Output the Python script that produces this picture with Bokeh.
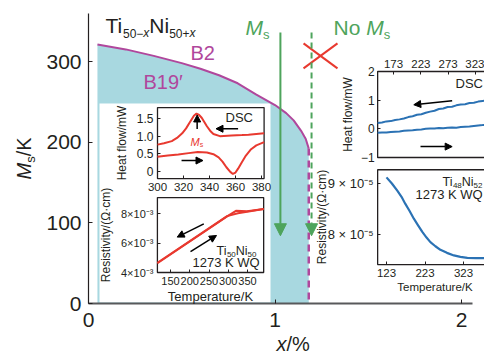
import math
from bokeh.plotting import figure
from bokeh.models import Range1d, LinearAxis, FixedTicker, Label, Arrow, NormalHead
from bokeh.embed import file_html
from bokeh.resources import INLINE

W, H = 484, 356
FONT = "Liberation Sans"
TXT = "#231f20"
CYAN = "#a8d8e0"
MAG = "#b0479c"
GREEN = "#4ea45c"
RED = "#e8392f"
BLUE = "#2b72b4"

# ---------------- data ----------------
# main phase diagram: Ms boundary of Ti50-xNi50+x
x_pct = [0.048, 0.20, 0.35, 0.50, 0.60, 0.70, 0.80, 0.90, 1.00, 1.06, 1.10, 1.14, 1.165, 1.181]
ms_K = [321, 315, 307, 298, 291, 283, 273, 259, 246, 236, 227, 214, 204, 192]
x_ticks = [0, 1, 2]
y_ticks = [0, 100, 200, 300]
x_ms_line = 1.029      # composition with Ms
x_no_ms_line = 1.196   # composition without Ms
arrow_top_K, arrow_tip_K = 336, 84
cross_x = [1.153, 1.335]
cross_y = [291.5, 322.5]

# inset A: DSC of Ti50Ni50 (red)
dsc_cool_T = [300, 305, 311, 315, 319, 322, 325, 328, 330, 332, 334, 336, 338, 341, 343, 348, 357, 365, 370, 376, 382]
dsc_cool_H = [0.76, 0.80, 0.86, 0.95, 1.08, 1.22, 1.40, 1.58, 1.64, 1.60, 1.52, 1.40, 1.28, 1.13, 1.06, 1.00, 1.02, 1.03, 1.04, 1.06, 1.08]
dsc_heat_T = [300, 308, 316, 324, 331, 338, 343, 347, 350, 353, 356, 358, 360, 362, 365, 368, 372, 376, 382]
dsc_heat_H = [0.42, 0.45, 0.48, 0.52, 0.55, 0.54, 0.49, 0.40, 0.28, 0.12, -0.01, -0.07, -0.03, 0.08, 0.27, 0.45, 0.63, 0.74, 0.83]
dsc_ticks_T = [300, 320, 340, 360, 380]
dsc_ticks_H = [0, 0.5, 1.0, 1.5]

# inset B: resistivity of Ti50Ni50 (red)
res_a_T = [116, 297, 320, 349, 392]
res_a_R = [4.63e-3, 7.80e-3, 8.18e-3, 8.16e-3, 8.30e-3]
res_b_T = [116, 297, 325, 349, 392]
res_b_R = [4.66e-3, 7.82e-3, 8.02e-3, 8.12e-3, 8.30e-3]
res_ticks_T = [150, 200, 250, 300, 350]
res_ticks_R = [4e-3, 6e-3, 8e-3]

# inset C: DSC of Ti48Ni52 (blue)
dsc2_T = [144, 152, 160, 168, 176, 184, 192, 200, 208, 216, 224, 232, 240, 248, 256, 264, 272, 280, 288, 296, 304, 312, 320, 328, 336, 344]
dsc2_cool = [0.20, 0.22, 0.26, 0.27, 0.31, 0.33, 0.36, 0.41, 0.44, 0.49, 0.51, 0.56, 0.60, 0.63, 0.69, 0.71, 0.76, 0.77, 0.82, 0.85, 0.86, 0.90, 0.91, 0.95, 0.97, 0.99]
dsc2_heat = [-0.14, -0.13, -0.13, -0.11, -0.10, -0.09, -0.07, -0.06, -0.05, -0.03, -0.02, 0.00, 0.01, 0.01, 0.03, 0.02, 0.04, 0.05, 0.04, 0.06, 0.07, 0.08, 0.10, 0.12, 0.13, 0.15]
dsc2_ticks_T = [173, 223, 273, 323]
dsc2_ticks_H = [-1, 0, 1, 2]

# inset D: resistivity of Ti48Ni52 (blue)
res2_T = [123, 137, 151, 162, 172, 183, 194, 205, 216, 227, 237, 250, 263, 280, 298, 315, 333, 355, 378]
res2_R = [9.12e-5, 9.00e-5, 8.86e-5, 8.74e-5, 8.60e-5, 8.46e-5, 8.31e-5, 8.18e-5, 8.05e-5, 7.94e-5, 7.85e-5, 7.77e-5, 7.70e-5, 7.64e-5, 7.59e-5, 7.56e-5, 7.54e-5, 7.535e-5, 7.535e-5]
res2_ticks_T = [123, 223, 323]
res2_ticks_R = [8e-5, 9e-5]

# ---------------- helpers ----------------
def xr(d0, d1, p0, p1):
    s = (p1 - p0) / (d1 - d0)
    return Range1d(start=d0 - p0 / s, end=d0 + (W - p0) / s)

def yr(d0, d1, p0, p1):
    s = (p0 - p1) / (d1 - d0)
    return Range1d(start=d0 - (H - p0) / s, end=d0 + p0 / s)

CW = {' ': .278, 'T': .611, 'i': .222, 'N': .722, 'M': .833, 's': .5, 'x': .5, 'o': .556,
      '/': .278, 'K': .667, '−': .584, '+': .584, '%': .889, 'B': .667}

def tw(s, size):
    return sum(CW.get(c, 0.556) for c in s) * size

p = figure(width=W, height=H, output_backend="svg", toolbar_location=None,
           x_range=xr(0, 2, 88, 461), y_range=yr(0, 300, 303, 61),
           x_axis_type=None, y_axis_type=None, min_border=0, title=None)
p.outline_line_color = None
p.xgrid.visible = False
p.ygrid.visible = False
p.background_fill_color = "white"
p.border_fill_color = "white"

p.extra_x_ranges = {
    "px": Range1d(0, W),
    "A": xr(300, 380, 157, 261),
    "B": xr(150, 350, 170, 247),
    "C": xr(173, 323, 393, 475),
    "D": xr(123, 323, 386, 463),
}
p.extra_y_ranges = {
    "px": Range1d(H, 0),
    "A": yr(0, 1.5, 171, 118),
    "B": yr(4e-3, 8e-3, 272, 213),
    "C": yr(-1, 2, 157, 71),
    "D": yr(8e-5, 9e-5, 234, 183),
}

def rich(pieces, x, y, angle=0.0):
    """x, y: start point on the text baseline (pixels from top-left)."""
    for txt, size, style, color, dy in pieces:
        off = dy - 0.36 * size  # baseline -> vertical middle of capitals
        if angle == 0:
            lx, ly = x, y + off
        else:
            lx, ly = x + off, y
        p.add_layout(Label(x=lx, y=ly, x_range_name="px", y_range_name="px", text=txt,
                           text_font=FONT, text_font_size=f"{size}px", text_font_style=style,
                           text_color=color, text_baseline="middle", text_align="left",
                           angle=angle))
        if angle == 0:
            x += tw(txt, size)
        else:
            y -= tw(txt, size)

def axis(side, name, loc, bounds, ticks, size, overrides=None, label=None, lsize=12,
         standoff=4, lstandoff=4, line_color=None, line_width=1, tick_len=3, tick_color=TXT):
    kw = {}
    if name is not None:
        kw = dict(x_range_name=name, y_range_name=name)
    ax = LinearAxis(fixed_location=loc, bounds=bounds, ticker=FixedTicker(ticks=ticks), **kw)
    ax.major_label_text_font = FONT
    ax.major_label_text_font_size = f"{size}px"
    ax.major_label_text_color = TXT
    ax.major_label_standoff = standoff
    ax.major_tick_in = tick_len
    ax.major_tick_out = 0
    ax.major_tick_line_color = tick_color
    ax.minor_tick_line_color = None
    ax.axis_line_color = line_color
    ax.axis_line_width = line_width
    if overrides:
        ax.major_label_overrides = overrides
    if label:
        ax.axis_label = label
        ax.axis_label_text_font = FONT
        ax.axis_label_text_font_size = f"{lsize}px"
        ax.axis_label_text_font_style = "normal"
        ax.axis_label_text_color = TXT
        ax.axis_label_standoff = lstandoff
    p.add_layout(ax, side)
    return ax

# ---------------- main phase diagram ----------------
p.varea(x=x_pct, y1=0, y2=ms_K, fill_color=CYAN)
p.quad(left=99, right=270, top=103, bottom=302, x_range_name="px", y_range_name="px",
       fill_color="white", line_color=None)
p.line(x_pct, ms_K, line_color=MAG, line_width=2)
p.line([x_pct[-1], x_pct[-1]], [ms_K[-1], 0], line_color=MAG, line_width=2.5, line_dash="7 5")

p.add_layout(Arrow(x_start=x_ms_line, y_start=arrow_top_K, x_end=x_ms_line, y_end=arrow_tip_K,
                   line_color=GREEN, line_width=2,
                   end=NormalHead(size=12, fill_color=GREEN, line_color=GREEN)))
p.add_layout(Arrow(x_start=x_no_ms_line, y_start=arrow_top_K, x_end=x_no_ms_line, y_end=arrow_tip_K,
                   line_color=GREEN, line_width=2, line_dash="6 4",
                   end=NormalHead(size=12, fill_color=GREEN, line_color=GREEN)))
p.segment(x0=[cross_x[0], cross_x[0]], y0=[cross_y[0], cross_y[1]],
          x1=[cross_x[1], cross_x[1]], y1=[cross_y[1], cross_y[0]], line_color=RED, line_width=2)

axis("left", None, 0, (0, 359.5), y_ticks, 21, standoff=7, line_color=TXT, line_width=1.2, tick_len=4)
axis("below", None, 0, (0, 2.06), x_ticks, 21, standoff=9, line_color="#58595b", line_width=2,
     tick_len=4)

# ---------------- inset A ----------------
p.quad(left=300, right=382, bottom=-0.2, top=1.81, x_range_name="A", y_range_name="A",
       fill_color="white", line_color=TXT, line_width=1.3)
p.line(dsc_cool_T, dsc_cool_H, x_range_name="A", y_range_name="A", line_color=RED, line_width=2)
p.line(dsc_heat_T, dsc_heat_H, x_range_name="A", y_range_name="A", line_color=RED, line_width=2)
axis("left", "A", 300, (-0.2, 1.81), dsc_ticks_H, 12,
     overrides={0: "0", 0.5: "0.5", 1.0: "1.0", 1.5: "1.5"}, label="Heat flow/mW", lstandoff=5)
axis("below", "A", -0.2, (300, 382), dsc_ticks_T, 11.5, standoff=4)
for xs, ys, xe, ye in [(330.5, 1.2, 330.5, 1.6), (362, 1.21, 345, 1.21), (318.5, 0.31, 335, 0.31)]:
    p.add_layout(Arrow(x_start=xs, y_start=ys, x_end=xe, y_end=ye, x_range_name="A", y_range_name="A",
                       line_color="black", line_width=1.5,
                       end=NormalHead(size=7, fill_color="black", line_color="black")))

# ---------------- inset B ----------------
p.quad(left=116, right=392, bottom=4e-3, top=9.08e-3, x_range_name="B", y_range_name="B",
       fill_color="white", line_color=TXT, line_width=1.3)
p.line(res_a_T, res_a_R, x_range_name="B", y_range_name="B", line_color=RED, line_width=2)
p.line(res_b_T, res_b_R, x_range_name="B", y_range_name="B", line_color=RED, line_width=2)
axis("left", "B", 116, (4e-3, 9.08e-3), res_ticks_R, 11,
     overrides={4e-3: "4×10⁻³", 6e-3: "6×10⁻³", 8e-3: "8×10⁻³"}, label="Resistivity/(Ω·cm)",
     lstandoff=5)
axis("below", "B", 4e-3, (116, 392), res_ticks_T, 11, standoff=4, label="Temperature/K",
     lsize=13, lstandoff=1)
for xs, ys, xe, ye in [(236.5, 7.30e-3, 167.4, 6.40e-3), (202, 5.42e-3, 269.5, 6.51e-3)]:
    p.add_layout(Arrow(x_start=xs, y_start=ys, x_end=xe, y_end=ye, x_range_name="B", y_range_name="B",
                       line_color="black", line_width=1.5,
                       end=NormalHead(size=7, fill_color="black", line_color="black")))

# ---------------- inset C ----------------
p.quad(left=144, right=345, bottom=-1, top=2, x_range_name="C", y_range_name="C",
       fill_color="white", line_color=TXT, line_width=1.3)
p.line(dsc2_T, dsc2_cool, x_range_name="C", y_range_name="C", line_color=BLUE, line_width=2)
p.line(dsc2_T, dsc2_heat, x_range_name="C", y_range_name="C", line_color=BLUE, line_width=2)
axis("left", "C", 144, (-1, 2), dsc2_ticks_H, 12, overrides={-1: "−1"}, standoff=3,
     label="Heat flow/mW", lstandoff=3)
axis("above", "C", 2, (144, 345), dsc2_ticks_T, 11.5, standoff=4)
for xs, ys, xe, ye in [(280.3, 0.98, 210.1, 0.84), (222.4, -0.62, 280.3, -0.62)]:
    p.add_layout(Arrow(x_start=xs, y_start=ys, x_end=xe, y_end=ye, x_range_name="C", y_range_name="C",
                       line_color="black", line_width=1.5,
                       end=NormalHead(size=7, fill_color="black", line_color="black")))

# ---------------- inset D ----------------
p.quad(left=100, right=380, bottom=7.41e-5, top=9.27e-5, x_range_name="D", y_range_name="D",
       fill_color="white", line_color=TXT, line_width=1.3)
for xs, ys, xe, ye in [(146.4, 8.54e-5, 131.6, 8.93e-5), (185.3, 8.67e-5, 213.1, 8.21e-5)]:
    p.add_layout(Arrow(x_start=xs, y_start=ys, x_end=xe, y_end=ye, x_range_name="D", y_range_name="D",
                       line_color="#ececec", line_width=3, level="underlay",
                       end=NormalHead(size=8, fill_color="#ececec", line_color="#ececec")))
p.line(res2_T, res2_R, x_range_name="D", y_range_name="D", line_color=BLUE, line_width=2.2)
axis("left", "D", 100, (7.41e-5, 9.27e-5), res2_ticks_R, 13,
     overrides={8e-5: "8 × 10⁻⁵", 9e-5: "9 × 10⁻⁵"}, standoff=4,
     label="Resistivity/(Ω·cm)", lstandoff=-4)
axis("below", "D", 7.41e-5, (120, 391), res2_ticks_T, 11.5, standoff=4, label="Temperature/K",
     lsize=11.5, lstandoff=1)

# ---------------- texts ----------------
rich([("Ti", 21, "normal", TXT, 0), ("50−", 12, "normal", TXT, 4), ("x", 12, "italic", TXT, 4),
      ("Ni", 21, "normal", TXT, 0), ("50+", 12, "normal", TXT, 4), ("x", 12, "italic", TXT, 4)],
     105, 33)
rich([("B2", 20, "normal", MAG, 0)], 190, 60)
rich([("B19′", 20, "normal", MAG, 0)], 143, 89)
rich([("M", 21, "italic", GREEN, 0), ("s", 13, "normal", GREEN, 4)], 245, 35)
rich([("No ", 21, "normal", GREEN, 0), ("M", 21, "italic", GREEN, 0), ("s", 13, "normal", GREEN, 4)],
     333, 35)
rich([("M", 20, "italic", TXT, 0), ("s", 13, "normal", TXT, 4), ("/K", 20, "normal", TXT, 0)],
     31, 179, angle=math.pi / 2)
rich([("x", 20, "italic", TXT, 0), ("/%", 20, "normal", TXT, 0)], 276, 351)
rich([("DSC", 13, "normal", TXT, 0)], 225, 122)
rich([("M", 11, "italic", RED, 0), ("s", 7, "normal", RED, 2)], 190, 145)
rich([("Ti", 12.5, "normal", TXT, 0), ("50", 8, "normal", TXT, 2), ("Ni", 12.5, "normal", TXT, 0),
      ("50", 8, "normal", TXT, 2)], 216, 255)
rich([("1273 K WQ", 13, "normal", TXT, 0)], 192, 267)
rich([("DSC", 13, "normal", TXT, 0)], 455, 88)
rich([("Ti", 12.5, "normal", TXT, 0), ("48", 8, "normal", TXT, 2), ("Ni", 12.5, "normal", TXT, 0),
      ("52", 8, "normal", TXT, 2)], 442, 186)
rich([("1273 K WQ", 13, "normal", TXT, 0)], 415, 199)

open("out.html", "w").write(file_html(p, INLINE))
